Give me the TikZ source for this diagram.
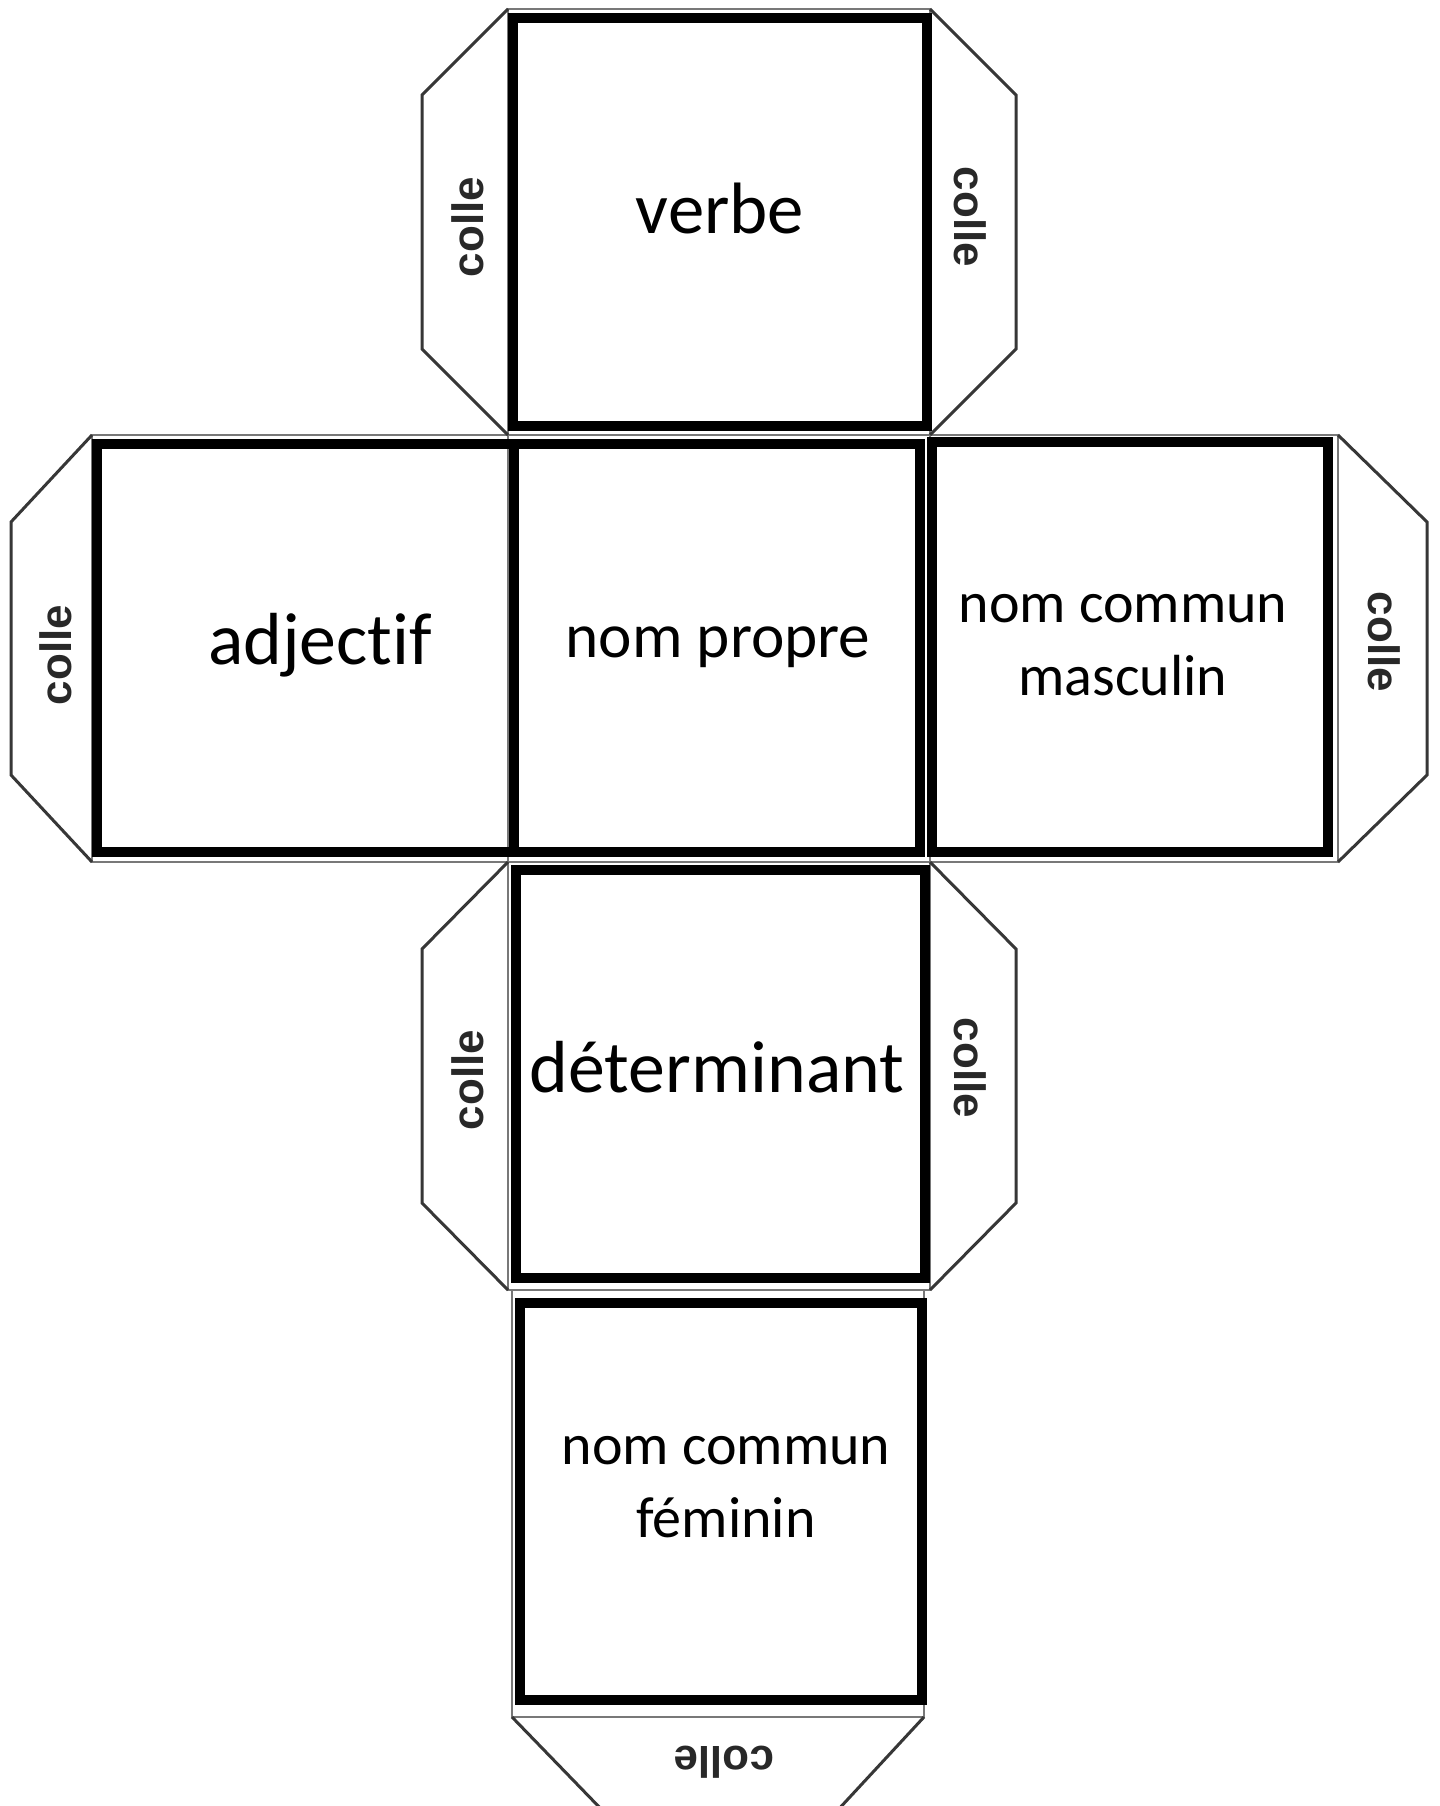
\documentclass[tikz,border=0pt]{standalone}
\usepackage{fontspec}
\setmainfont{Carlito}[Ligatures=CommonOff]
\newfontfamily\collefont{Liberation Sans}
\usepackage{tikz}
\usepackage{xcolor}
\definecolor{bFace}{RGB}{0, 0, 0}
\definecolor{bTemplate}{RGB}{120, 120, 120}
\definecolor{bTab}{RGB}{55, 55, 55}
\definecolor{tColle}{RGB}{40, 40, 40}

\begin{document}
\begin{tikzpicture}[
    x=0.1mm, y=-0.1mm,
    face/.style={draw=bFace, line width=1mm},
    template/.style={draw=bTemplate, line width=0.2mm},
    tab/.style={draw=bTab, line width=0.3mm},
    facetext/.style={
        font=\fontsize{#1}{20.5}\selectfont,
        align=center,
        inner sep=0pt,
        anchor=base
    },
    colle/.style={
        font=\collefont\bfseries\fontsize{12.5}{14}\selectfont,
        text=tColle,
        inner sep=0pt
    }
]

\useasboundingbox (0,0) rectangle (1440,1806);
\fill[white] (0,0) rectangle (1440,1806);

% template squares
\draw[template] (508,9) rectangle (930,435);
\draw[template] (92,435) rectangle (508,862);
\draw[template] (508,435) rectangle (930,862);
\draw[template] (930,435) rectangle (1338,862);
\draw[template] (508,862) rectangle (930,1290);
\draw[template] (512,1290) rectangle (924,1717);

% glue tabs
\draw[tab] (508,9) -- (422,95) -- (422,349) -- (508,435);
\draw[tab] (930,9) -- (1016,95) -- (1016,349) -- (930,435);
\draw[tab] (92,435) -- (11,522) -- (11,775) -- (92,862);
\draw[tab] (1338,435) -- (1427,522) -- (1427,775) -- (1338,862);
\draw[tab] (508,862) -- (422,949) -- (422,1203) -- (508,1290);
\draw[tab] (930,862) -- (1016,949) -- (1016,1203) -- (930,1290);
\begin{scope}
    \clip (0,0) rectangle (1440,1806);
    \draw[tab] (512,1717) -- (604,1812) -- (836,1812) -- (924,1717);
\end{scope}

% faces
\draw[face] (513,18) rectangle (927,426);
\draw[face] (97,444) rectangle (514,852);
\draw[face] (514,444) rectangle (920,852);
\draw[face] (932,442) rectangle (1328,852);
\draw[face] (516,870) rectangle (925,1278);
\draw[face] (520,1303) rectangle (922,1700);

\node[facetext=20.7] (verbe) at (720,234) {verbe};
\node[facetext=21] (adjectif) at (320,664) {adjectif};
\node[facetext=18] (nompropre) at (718,657) {nom propre};
\node[facetext=16.5] (masculin) at (1123,695) {nom commun\\masculin};
\node[facetext=21] (determinant) at (717,1092) {déterminant};
\node[facetext=16.5] (feminin) at (726,1537) {nom commun\\féminin};

\node[colle, rotate=90] (colleVl) at (468,227) {colle};
\node[colle, rotate=-90] (colleVr) at (970,217) {colle};
\node[colle, rotate=90] (colleA) at (56,655) {colle};
\node[colle, rotate=-90] (colleM) at (1384,642) {colle};
\node[colle, rotate=90] (colleDl) at (468,1080) {colle};
\node[colle, rotate=-90] (colleDr) at (970,1068) {colle};
\node[colle, rotate=180] (colleF) at (724,1762) {colle};

\end{tikzpicture}
\end{document}
